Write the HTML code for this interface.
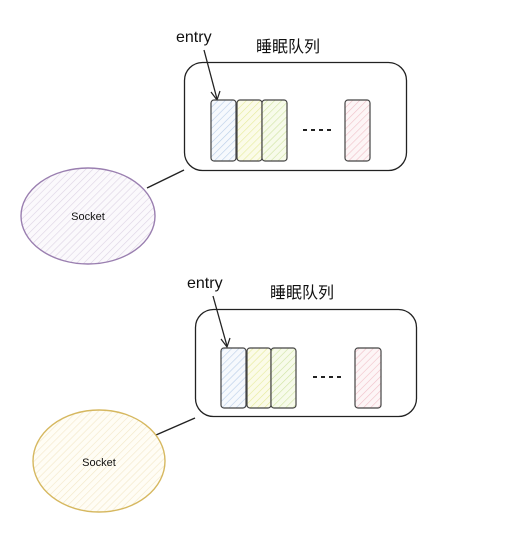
<!DOCTYPE html>
<html><head><meta charset="utf-8"><style>
html,body{margin:0;padding:0;background:#fff;}
svg text{font-family:"Liberation Sans","Noto Sans CJK SC",sans-serif;}
</style></head><body>
<svg width="509" height="531" viewBox="0 0 509 531" xmlns="http://www.w3.org/2000/svg">
<defs>
<pattern id="hb" width="5" height="5" patternUnits="userSpaceOnUse" patternTransform="rotate(45)"><rect width="5" height="5" fill="#f6f9fd"/><line x1="0" y1="0" x2="0" y2="5" stroke="#b9cde8" stroke-width="1.2"/></pattern>
<pattern id="hy" width="5" height="5" patternUnits="userSpaceOnUse" patternTransform="rotate(45)"><rect width="5" height="5" fill="#fbfbe8"/><line x1="0" y1="0" x2="0" y2="5" stroke="#e6eb9a" stroke-width="1.2"/></pattern>
<pattern id="hg" width="5" height="5" patternUnits="userSpaceOnUse" patternTransform="rotate(45)"><rect width="5" height="5" fill="#f7fbea"/><line x1="0" y1="0" x2="0" y2="5" stroke="#cfe3a2" stroke-width="1.2"/></pattern>
<pattern id="hp" width="5" height="5" patternUnits="userSpaceOnUse" patternTransform="rotate(45)"><rect width="5" height="5" fill="#fdf5f6"/><line x1="0" y1="0" x2="0" y2="5" stroke="#f0c0c8" stroke-width="1.2"/></pattern>
<pattern id="hv" width="5" height="5" patternUnits="userSpaceOnUse" patternTransform="rotate(45)"><rect width="5" height="5" fill="#fbf9fc"/><line x1="0" y1="0" x2="0" y2="5" stroke="#ddd3e4" stroke-width="1.2"/></pattern>
<pattern id="ho" width="5" height="5" patternUnits="userSpaceOnUse" patternTransform="rotate(45)"><rect width="5" height="5" fill="#fffdf5"/><line x1="0" y1="0" x2="0" y2="5" stroke="#f3e8c8" stroke-width="1.2"/></pattern>
</defs>

<!-- top -->
<text x="176" y="42" font-size="16" fill="#111">entry</text>
<text x="256" y="52" font-size="16" fill="#111">睡眠队列</text>
<rect x="184.5" y="62.5" width="222" height="108" rx="18" fill="none" stroke="#222" stroke-width="1.3"/>
<line x1="204" y1="50" x2="217" y2="99" stroke="#222" stroke-width="1.3"/>
<polyline points="211,92 217,100 220,91" fill="none" stroke="#222" stroke-width="1.2"/>
<rect x="211" y="100" width="25" height="61" rx="3" fill="url(#hb)" stroke="#444" stroke-width="1.2"/>
<rect x="237" y="100" width="25" height="61" rx="3" fill="url(#hy)" stroke="#444" stroke-width="1.2"/>
<rect x="262" y="100" width="25" height="61" rx="3" fill="url(#hg)" stroke="#444" stroke-width="1.2"/>
<rect x="345" y="100" width="25" height="61" rx="3" fill="url(#hp)" stroke="#444" stroke-width="1.2"/>
<line x1="303" y1="130" x2="331" y2="130" stroke="#222" stroke-width="2" stroke-dasharray="4,4"/>
<line x1="147" y1="188" x2="184" y2="170" stroke="#222" stroke-width="1.4"/>
<ellipse cx="88" cy="216" rx="67" ry="48" fill="url(#hv)" stroke="#9a7fb0" stroke-width="1.4"/>
<text x="88" y="220" font-size="11" text-anchor="middle" fill="#111">Socket</text>

<!-- bottom -->
<text x="187" y="288" font-size="16" fill="#111">entry</text>
<text x="270" y="298" font-size="16" fill="#111">睡眠队列</text>
<rect x="195.5" y="309.5" width="221" height="107" rx="18" fill="none" stroke="#222" stroke-width="1.3"/>
<line x1="213" y1="296" x2="227" y2="346" stroke="#222" stroke-width="1.3"/>
<polyline points="221,339 227,347 230,338" fill="none" stroke="#222" stroke-width="1.2"/>
<rect x="221" y="348" width="25" height="60" rx="3" fill="url(#hb)" stroke="#444" stroke-width="1.2"/>
<rect x="247" y="348" width="24" height="60" rx="3" fill="url(#hy)" stroke="#444" stroke-width="1.2"/>
<rect x="271" y="348" width="25" height="60" rx="3" fill="url(#hg)" stroke="#444" stroke-width="1.2"/>
<rect x="355" y="348" width="26" height="60" rx="3" fill="url(#hp)" stroke="#444" stroke-width="1.2"/>
<line x1="313" y1="377" x2="341" y2="377" stroke="#222" stroke-width="2" stroke-dasharray="4,4"/>
<line x1="156" y1="435" x2="195" y2="418" stroke="#222" stroke-width="1.4"/>
<ellipse cx="99" cy="461" rx="66" ry="51" fill="url(#ho)" stroke="#d6b860" stroke-width="1.4"/>
<text x="99" y="466" font-size="11" text-anchor="middle" fill="#111">Socket</text>
</svg>
</body></html>
